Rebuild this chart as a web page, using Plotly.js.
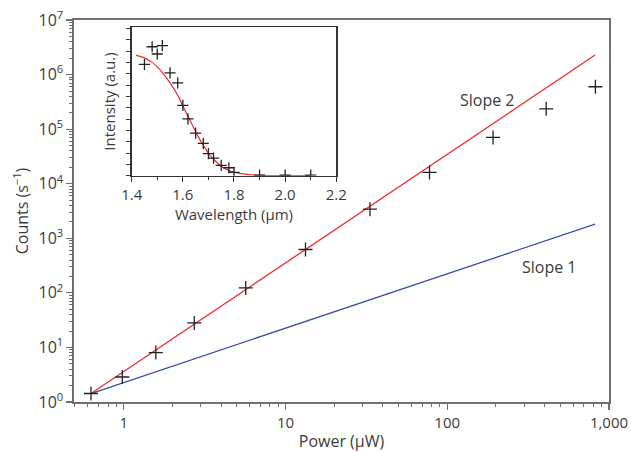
<!DOCTYPE html>
<html>
<head>
<meta charset="utf-8">
<script src="https://cdn.plot.ly/plotly-3.0.1.min.js"></script>
<style>html,body{margin:0;padding:0;background:#fff;}#chart{width:631px;height:452px;}</style>
</head>
<body>
<div id="chart"></div>
<script>
// Main panel: counts vs pump power
const powerUW = [0.628, 0.98, 1.58, 2.73, 5.68, 13.3, 33.3, 77.7, 192, 409, 824];
const counts  = [1.43, 2.87, 8.05, 28.1, 123, 623, 3420, 16100, 70600, 236000, 598000];
// Guide lines (end points)
const guideX      = [0.628, 820];
const slope2Y     = [1.43, 2280000];
const slope1Y     = [1.43, 1815];
// Inset: spectrum
const wavelength  = [1.45, 1.48, 1.50, 1.52, 1.55, 1.58, 1.60, 1.62, 1.65, 1.68, 1.70, 1.72, 1.75, 1.78, 1.80, 1.90, 2.00, 2.10];
const intensity   = [9.82, 11.38, 10.74, 11.48, 9.08, 8.2, 6.2, 5.02, 3.76, 2.86, 1.94, 1.56, 0.92, 0.7, 0.3, 0.06, 0.06, 0.06];
const fitWl       = [1.417, 1.45, 1.48, 1.50, 1.52, 1.55, 1.58, 1.60, 1.62, 1.64, 1.66, 1.68, 1.70, 1.72, 1.75, 1.78, 1.80, 1.85, 1.90, 2.00, 2.10];
const fitInt      = [10.62, 10.4, 10.0, 9.6, 9.1, 8.2, 7.1, 6.15, 5.25, 4.35, 3.45, 2.7, 1.98, 1.45, 0.84, 0.45, 0.31, 0.12, 0.04, 0.01, 0.0];
const xTickVals = [1, 10, 100, 1000];
const xTickText = ['1', '10', '100', '1,000'];
const yTickVals = [1, 10, 100, 1e3, 1e4, 1e5, 1e6, 1e7];
const yTickText = ['10<sup>0</sup>','10<sup>1</sup>','10<sup>2</sup>','10<sup>3</sup>','10<sup>4</sup>','10<sup>5</sup>','10<sup>6</sup>','10<sup>7</sup>'];
const wlTicks = [1.4, 1.6, 1.8, 2.0, 2.2];
const wlTickText = ['1.4', '1.6', '1.8', '2.0', '2.2'];

function minorLog(lo, hi) {
  const out = [];
  for (let e = lo; e <= hi; e++) for (let m = 2; m <= 9; m++) out.push(m * Math.pow(10, e));
  return out;
}

const FONT = 'Open Sans, Noto Sans, sans-serif';
const TXT = '#3c3c3c';
const AX = '#6f6f6f';
const MK = '#222222';

const traces = [
  {x: guideX, y: slope2Y, mode: 'lines', line: {color: '#ee2a2f', width: 1.3}, xaxis: 'x', yaxis: 'y', hoverinfo: 'skip'},
  {x: guideX, y: slope1Y, mode: 'lines', line: {color: '#3452a4', width: 1.3}, xaxis: 'x', yaxis: 'y', hoverinfo: 'skip'},
  {x: powerUW, y: counts, mode: 'markers', marker: {symbol: 'cross-thin-open', size: 10, color: MK, line: {color: MK, width: 1.3}}, xaxis: 'x', yaxis: 'y'},
  {x: fitWl, y: fitInt, mode: 'lines', line: {color: '#ee2a2f', width: 1.2, shape: 'spline'}, xaxis: 'x2', yaxis: 'y2', hoverinfo: 'skip'},
  {x: wavelength, y: intensity, mode: 'markers', marker: {symbol: 'cross-thin-open', size: 8, color: MK, line: {color: MK, width: 1.3}}, xaxis: 'x2', yaxis: 'y2'}
];

const layout = {
  width: 631, height: 452,
  margin: {l: 74, r: 22, t: 20, b: 50},
  paper_bgcolor: '#fff', plot_bgcolor: '#fff',
  showlegend: false,
  font: {family: FONT, color: TXT, size: 15},
  xaxis: {
    type: 'log', range: [Math.log10(0.493), 3], domain: [0, 1],
    tickvals: xTickVals, ticktext: xTickText, ticks: 'outside', ticklen: 6, tickwidth: 1.2, tickcolor: AX,
    minor: {tickvals: minorLog(-1, 2).filter(v => v > 0.49), ticks: 'outside', ticklen: 3.5, tickwidth: 1, tickcolor: AX, showgrid: false},
    showline: true, linecolor: AX, linewidth: 1.6, mirror: true, showgrid: false, zeroline: false,
    tickfont: {size: 15, color: TXT},
    title: {text: 'Power (μW)', font: {size: 16, color: TXT}, standoff: 6}
  },
  yaxis: {
    type: 'log', range: [0, 7], domain: [0, 1],
    tickvals: yTickVals, ticktext: yTickText, ticks: 'outside', ticklen: 6, tickwidth: 1.2, tickcolor: AX,
    minor: {tickvals: minorLog(0, 6), ticks: 'outside', ticklen: 3.5, tickwidth: 1, tickcolor: AX, showgrid: false},
    showline: true, linecolor: AX, linewidth: 1.6, mirror: true, showgrid: false, zeroline: false,
    tickfont: {size: 16, color: TXT},
    title: {text: 'Counts (s<sup>−1</sup>)', font: {size: 16, color: TXT}, standoff: 6}
  },
  xaxis2: {
    anchor: 'y2', domain: [0.1078, 0.4903], range: [1.4, 2.2],
    tickvals: wlTicks, ticktext: wlTickText, ticks: 'outside', ticklen: 5, tickwidth: 1, tickcolor: '#333',
    minor: {dtick: 0.1, ticks: 'outside', ticklen: 3, tickwidth: 1, tickcolor: '#333', showgrid: false},
    showline: true, linecolor: '#333', linewidth: 1.2, mirror: true, showgrid: false, zeroline: false,
    tickfont: {size: 15, color: TXT},
    title: {text: 'Wavelength (μm)', font: {size: 15, color: TXT}, standoff: 3}
  },
  yaxis2: {
    anchor: 'x2', domain: [0.5924, 0.981], range: [0, 13.1],
    dtick: 1, tick0: 0, ticks: 'outside', ticklen: 4, tickwidth: 1, tickcolor: '#333', showticklabels: false,
    showline: true, linecolor: '#333', linewidth: 1.2, mirror: true, showgrid: false, zeroline: false,
    title: {text: 'Intensity (a.u.)', font: {size: 15, color: TXT}, standoff: 7}
  },
  shapes: [
    {type: 'rect', xref: 'paper', yref: 'paper', x0: 0.1078, x1: 0.4903, y0: 0.5924, y1: 0.981, fillcolor: '#fff', line: {width: 0}, layer: 'below'}
  ],
  annotations: [
    {text: 'Slope 2', xref: 'x', yref: 'y', x: 2.25, y: 5.535, showarrow: false, font: {size: 16, color: TXT}},
    {text: 'Slope 1', xref: 'x', yref: 'y', x: 2.635, y: 2.465, showarrow: false, font: {size: 16, color: TXT}}
  ]
};

Plotly.newPlot('chart', traces, layout, {staticPlot: true, displayModeBar: false});
</script>
</body>
</html>
